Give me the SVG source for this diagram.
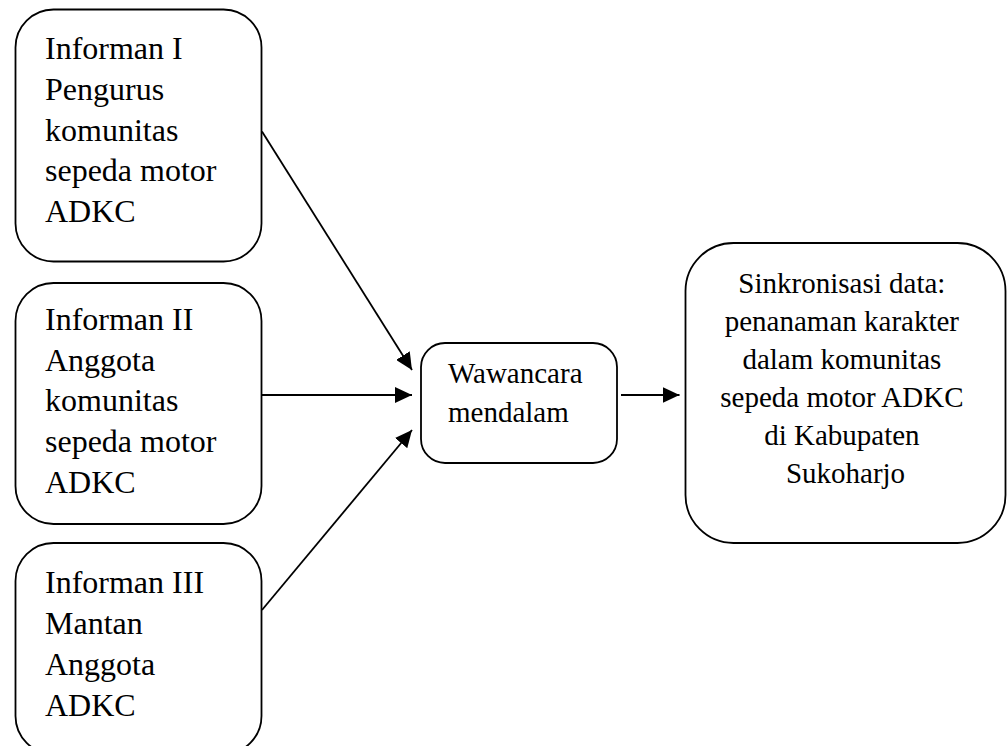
<svg xmlns="http://www.w3.org/2000/svg" width="1008" height="746" viewBox="0 0 1008 746">
  <style>
    .box { fill: #ffffff; stroke: #000000; stroke-width: 1.8; }
    .lbl { font-family: "Liberation Serif", "Times New Roman", serif; fill: #000000; }
    .big { font-size: 32px; }
    .mid { font-size: 29px; }
    .edge { stroke: #000000; stroke-width: 1.8; fill: none; marker-end: url(#head); }
  </style>
  <defs>
    <marker id="head" markerUnits="userSpaceOnUse" markerWidth="18" markerHeight="16" refX="17" refY="8" orient="auto">
      <path d="M0,0 L17,8 L0,16 Z" fill="#000000"/>
    </marker>
  </defs>
  <rect width="1008" height="746" fill="#ffffff"/>

  <g id="informan-1">
    <rect class="box" x="15.5" y="9.5" width="246" height="252" rx="38" ry="38"/>
    <text class="lbl big" x="45">
      <tspan x="45" y="59">Informan I</tspan>
      <tspan x="45" y="100">Pengurus</tspan>
      <tspan x="45" y="141">komunitas</tspan>
      <tspan x="45" y="181">sepeda motor</tspan>
      <tspan x="45" y="222">ADKC</tspan>
    </text>
  </g>

  <g id="informan-2">
    <rect class="box" x="15.5" y="283" width="246" height="241" rx="38" ry="38"/>
    <text class="lbl big" x="45">
      <tspan x="45" y="330">Informan II</tspan>
      <tspan x="45" y="371">Anggota</tspan>
      <tspan x="45" y="411">komunitas</tspan>
      <tspan x="45" y="452">sepeda motor</tspan>
      <tspan x="45" y="493">ADKC</tspan>
    </text>
  </g>

  <g id="informan-3">
    <rect class="box" x="15.5" y="543" width="246" height="211" rx="38" ry="38"/>
    <text class="lbl big" x="45">
      <tspan x="45" y="593">Informan III</tspan>
      <tspan x="45" y="634">Mantan</tspan>
      <tspan x="45" y="675">Anggota</tspan>
      <tspan x="45" y="716">ADKC</tspan>
    </text>
  </g>

  <g id="wawancara">
    <rect class="box" x="421" y="343" width="196" height="120" rx="24" ry="24"/>
    <text class="lbl mid">
      <tspan x="448" y="383">Wawancara</tspan>
      <tspan x="448" y="422">mendalam</tspan>
    </text>
  </g>

  <g id="sinkronisasi">
    <rect class="box" x="685.5" y="243" width="320" height="300" rx="48" ry="48"/>
    <text class="lbl mid" text-anchor="middle">
      <tspan x="845.5" y="293">Sinkronisasi data:</tspan>
      <tspan x="845.5" y="331">penanaman karakter</tspan>
      <tspan x="845.5" y="369">dalam komunitas</tspan>
      <tspan x="845.5" y="407">sepeda motor ADKC</tspan>
      <tspan x="845.5" y="445">di Kabupaten</tspan>
      <tspan x="845.5" y="483">Sukoharjo</tspan>
    </text>
  </g>

  <g id="connectors">
    <line class="edge" x1="262" y1="131.5" x2="412" y2="370"/>
    <line class="edge" x1="262" y1="395" x2="412" y2="395"/>
    <line class="edge" x1="262" y1="610" x2="412" y2="430"/>
    <line class="edge" x1="621" y1="395" x2="679.5" y2="395"/>
  </g>
</svg>
